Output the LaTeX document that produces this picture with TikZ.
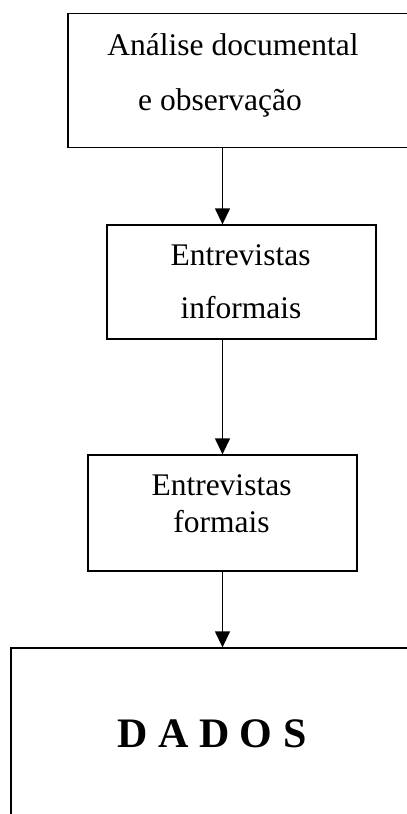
\documentclass[tikz,border=0pt]{standalone}
\usepackage{fontspec}
\setmainfont{Liberation Serif}
\usetikzlibrary{arrows.meta}
\tikzset{
  boxnode/.style={draw=black, line width=1.3pt, rectangle, inner sep=0pt},
  lbl/.style={anchor=base, inner sep=0pt, font=\fontsize{31.5}{38}\selectfont},
  biglbl/.style={anchor=base, inner sep=0pt, font=\fontsize{42}{50}\selectfont\bfseries},
  arr/.style={line width=1.3pt, -{Triangle[length=16pt,width=15pt]}}
}
\begin{document}
\begin{tikzpicture}[x=1pt,y=1pt]
\useasboundingbox (0,0) rectangle (407,-814);
\clip (0,0) rectangle (407,-814);
\node[boxnode, minimum width=352pt, minimum height=134pt] (b1) at (244,-80.5) {};
\node[boxnode, minimum width=269pt, minimum height=114pt] (b2) at (241.5,-282) {};
\node[boxnode, minimum width=269pt, minimum height=116pt] (b3) at (222.5,-513) {};
\node[boxnode, minimum width=419pt, minimum height=192pt] (b4) at (220.5,-744) {};
\node[lbl] (t1a) at (233,-55) {Análise documental};
\node[lbl] (t1b) at (220,-110) {e observação};
\node[lbl] (t2a) at (240.5,-265) {Entrevistas};
\node[lbl] (t2b) at (241,-318) {informais};
\node[lbl] (t3a) at (221.5,-495) {Entrevistas};
\node[lbl] (t3b) at (221.5,-532) {formais};
\node[biglbl] (t4) at (212,-747) {D A D O S};
\draw[arr] (b1.south -| b3.center) -- (b2.north -| b3.center);
\draw[arr] (b2.south -| b3.center) -- (b3.north);
\draw[arr] (b3.south) -- (b4.north -| b3.center);
\end{tikzpicture}
\end{document}
